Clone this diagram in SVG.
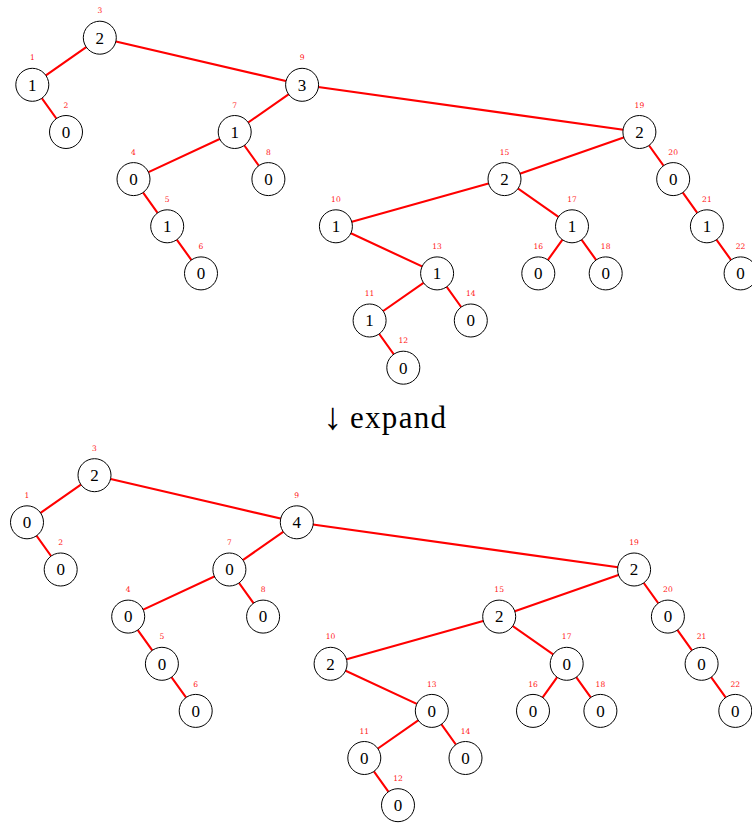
<svg xmlns="http://www.w3.org/2000/svg" width="752" height="824" viewBox="0 0 752 824">
<style>
.edge line{stroke:#ff0000;stroke-width:2.1;stroke-linecap:round}
.node circle{fill:#fff;stroke:#000;stroke-width:1}
.v{font-family:"Liberation Serif","DejaVu Serif",serif;font-size:17px;text-anchor:middle;fill:#000}
.l{font-family:"DejaVu Serif","Liberation Serif",serif;font-size:7.6px;text-anchor:middle;fill:#ff2020}
.cap{font-family:"Liberation Serif","DejaVu Serif",serif;font-size:31px;fill:#000}
</style>
<rect width="752" height="824" fill="#fff"/>
<g id="top-tree">
<g id="top-connectors" class="edge">
<line x1="99.8" y1="37.7" x2="32.3" y2="84.8"/>
<line x1="99.8" y1="37.7" x2="302.1" y2="84.8"/>
<line x1="32.3" y1="84.8" x2="66.0" y2="132.0"/>
<line x1="302.1" y1="84.8" x2="234.7" y2="132.0"/>
<line x1="302.1" y1="84.8" x2="639.4" y2="132.0"/>
<line x1="234.7" y1="132.0" x2="133.5" y2="179.1"/>
<line x1="234.7" y1="132.0" x2="268.4" y2="179.1"/>
<line x1="133.5" y1="179.1" x2="167.2" y2="226.3"/>
<line x1="167.2" y1="226.3" x2="201.0" y2="273.4"/>
<line x1="639.4" y1="132.0" x2="504.5" y2="179.1"/>
<line x1="639.4" y1="132.0" x2="673.2" y2="179.1"/>
<line x1="504.5" y1="179.1" x2="335.9" y2="226.3"/>
<line x1="504.5" y1="179.1" x2="572.0" y2="226.3"/>
<line x1="335.9" y1="226.3" x2="437.1" y2="273.4"/>
<line x1="437.1" y1="273.4" x2="369.6" y2="320.5"/>
<line x1="437.1" y1="273.4" x2="470.8" y2="320.5"/>
<line x1="369.6" y1="320.5" x2="403.3" y2="367.7"/>
<line x1="572.0" y1="226.3" x2="538.3" y2="273.4"/>
<line x1="572.0" y1="226.3" x2="605.7" y2="273.4"/>
<line x1="673.2" y1="179.1" x2="706.9" y2="226.3"/>
<line x1="706.9" y1="226.3" x2="740.6" y2="273.4"/>
</g>
<g id="t1" class="node"><circle cx="32.3" cy="84.8" r="16.5"/><text class="v" x="32.3" y="90.6">1</text><text class="l" x="32.3" y="60.4">1</text></g>
<g id="t2" class="node"><circle cx="66.0" cy="132.0" r="16.5"/><text class="v" x="66.0" y="137.8">0</text><text class="l" x="66.0" y="107.6">2</text></g>
<g id="t3" class="node"><circle cx="99.8" cy="37.7" r="16.5"/><text class="v" x="99.8" y="43.5">2</text><text class="l" x="99.8" y="13.3">3</text></g>
<g id="t4" class="node"><circle cx="133.5" cy="179.1" r="16.5"/><text class="v" x="133.5" y="184.9">0</text><text class="l" x="133.5" y="154.7">4</text></g>
<g id="t5" class="node"><circle cx="167.2" cy="226.3" r="16.5"/><text class="v" x="167.2" y="232.1">1</text><text class="l" x="167.2" y="201.9">5</text></g>
<g id="t6" class="node"><circle cx="201.0" cy="273.4" r="16.5"/><text class="v" x="201.0" y="279.2">0</text><text class="l" x="201.0" y="249.0">6</text></g>
<g id="t7" class="node"><circle cx="234.7" cy="132.0" r="16.5"/><text class="v" x="234.7" y="137.8">1</text><text class="l" x="234.7" y="107.6">7</text></g>
<g id="t8" class="node"><circle cx="268.4" cy="179.1" r="16.5"/><text class="v" x="268.4" y="184.9">0</text><text class="l" x="268.4" y="154.7">8</text></g>
<g id="t9" class="node"><circle cx="302.1" cy="84.8" r="16.5"/><text class="v" x="302.1" y="90.6">3</text><text class="l" x="302.1" y="60.4">9</text></g>
<g id="t10" class="node"><circle cx="335.9" cy="226.3" r="16.5"/><text class="v" x="335.9" y="232.1">1</text><text class="l" x="335.9" y="201.9">10</text></g>
<g id="t11" class="node"><circle cx="369.6" cy="320.5" r="16.5"/><text class="v" x="369.6" y="326.3">1</text><text class="l" x="369.6" y="296.1">11</text></g>
<g id="t12" class="node"><circle cx="403.3" cy="367.7" r="16.5"/><text class="v" x="403.3" y="373.5">0</text><text class="l" x="403.3" y="343.3">12</text></g>
<g id="t13" class="node"><circle cx="437.1" cy="273.4" r="16.5"/><text class="v" x="437.1" y="279.2">1</text><text class="l" x="437.1" y="249.0">13</text></g>
<g id="t14" class="node"><circle cx="470.8" cy="320.5" r="16.5"/><text class="v" x="470.8" y="326.3">0</text><text class="l" x="470.8" y="296.1">14</text></g>
<g id="t15" class="node"><circle cx="504.5" cy="179.1" r="16.5"/><text class="v" x="504.5" y="184.9">2</text><text class="l" x="504.5" y="154.7">15</text></g>
<g id="t16" class="node"><circle cx="538.3" cy="273.4" r="16.5"/><text class="v" x="538.3" y="279.2">0</text><text class="l" x="538.3" y="249.0">16</text></g>
<g id="t17" class="node"><circle cx="572.0" cy="226.3" r="16.5"/><text class="v" x="572.0" y="232.1">1</text><text class="l" x="572.0" y="201.9">17</text></g>
<g id="t18" class="node"><circle cx="605.7" cy="273.4" r="16.5"/><text class="v" x="605.7" y="279.2">0</text><text class="l" x="605.7" y="249.0">18</text></g>
<g id="t19" class="node"><circle cx="639.4" cy="132.0" r="16.5"/><text class="v" x="639.4" y="137.8">2</text><text class="l" x="639.4" y="107.6">19</text></g>
<g id="t20" class="node"><circle cx="673.2" cy="179.1" r="16.5"/><text class="v" x="673.2" y="184.9">0</text><text class="l" x="673.2" y="154.7">20</text></g>
<g id="t21" class="node"><circle cx="706.9" cy="226.3" r="16.5"/><text class="v" x="706.9" y="232.1">1</text><text class="l" x="706.9" y="201.9">21</text></g>
<g id="t22" class="node"><circle cx="740.6" cy="273.4" r="16.5"/><text class="v" x="740.6" y="279.2">0</text><text class="l" x="740.6" y="249.0">22</text></g>
</g>
<text id="caption" class="cap" y="428"><tspan x="323" y="429" font-size="38">↓</tspan><tspan x="350" y="428" textLength="96">expand</tspan></text>
<g id="bottom-tree" transform="translate(-5.3,437.5)">
<g id="bottom-connectors" class="edge">
<line x1="99.8" y1="37.7" x2="32.3" y2="84.8"/>
<line x1="99.8" y1="37.7" x2="302.1" y2="84.8"/>
<line x1="32.3" y1="84.8" x2="66.0" y2="132.0"/>
<line x1="302.1" y1="84.8" x2="234.7" y2="132.0"/>
<line x1="302.1" y1="84.8" x2="639.4" y2="132.0"/>
<line x1="234.7" y1="132.0" x2="133.5" y2="179.1"/>
<line x1="234.7" y1="132.0" x2="268.4" y2="179.1"/>
<line x1="133.5" y1="179.1" x2="167.2" y2="226.3"/>
<line x1="167.2" y1="226.3" x2="201.0" y2="273.4"/>
<line x1="639.4" y1="132.0" x2="504.5" y2="179.1"/>
<line x1="639.4" y1="132.0" x2="673.2" y2="179.1"/>
<line x1="504.5" y1="179.1" x2="335.9" y2="226.3"/>
<line x1="504.5" y1="179.1" x2="572.0" y2="226.3"/>
<line x1="335.9" y1="226.3" x2="437.1" y2="273.4"/>
<line x1="437.1" y1="273.4" x2="369.6" y2="320.5"/>
<line x1="437.1" y1="273.4" x2="470.8" y2="320.5"/>
<line x1="369.6" y1="320.5" x2="403.3" y2="367.7"/>
<line x1="572.0" y1="226.3" x2="538.3" y2="273.4"/>
<line x1="572.0" y1="226.3" x2="605.7" y2="273.4"/>
<line x1="673.2" y1="179.1" x2="706.9" y2="226.3"/>
<line x1="706.9" y1="226.3" x2="740.6" y2="273.4"/>
</g>
<g id="b1" class="node"><circle cx="32.3" cy="84.8" r="16.5"/><text class="v" x="32.3" y="90.6">0</text><text class="l" x="32.3" y="60.4">1</text></g>
<g id="b2" class="node"><circle cx="66.0" cy="132.0" r="16.5"/><text class="v" x="66.0" y="137.8">0</text><text class="l" x="66.0" y="107.6">2</text></g>
<g id="b3" class="node"><circle cx="99.8" cy="37.7" r="16.5"/><text class="v" x="99.8" y="43.5">2</text><text class="l" x="99.8" y="13.3">3</text></g>
<g id="b4" class="node"><circle cx="133.5" cy="179.1" r="16.5"/><text class="v" x="133.5" y="184.9">0</text><text class="l" x="133.5" y="154.7">4</text></g>
<g id="b5" class="node"><circle cx="167.2" cy="226.3" r="16.5"/><text class="v" x="167.2" y="232.1">0</text><text class="l" x="167.2" y="201.9">5</text></g>
<g id="b6" class="node"><circle cx="201.0" cy="273.4" r="16.5"/><text class="v" x="201.0" y="279.2">0</text><text class="l" x="201.0" y="249.0">6</text></g>
<g id="b7" class="node"><circle cx="234.7" cy="132.0" r="16.5"/><text class="v" x="234.7" y="137.8">0</text><text class="l" x="234.7" y="107.6">7</text></g>
<g id="b8" class="node"><circle cx="268.4" cy="179.1" r="16.5"/><text class="v" x="268.4" y="184.9">0</text><text class="l" x="268.4" y="154.7">8</text></g>
<g id="b9" class="node"><circle cx="302.1" cy="84.8" r="16.5"/><text class="v" x="302.1" y="90.6">4</text><text class="l" x="302.1" y="60.4">9</text></g>
<g id="b10" class="node"><circle cx="335.9" cy="226.3" r="16.5"/><text class="v" x="335.9" y="232.1">2</text><text class="l" x="335.9" y="201.9">10</text></g>
<g id="b11" class="node"><circle cx="369.6" cy="320.5" r="16.5"/><text class="v" x="369.6" y="326.3">0</text><text class="l" x="369.6" y="296.1">11</text></g>
<g id="b12" class="node"><circle cx="403.3" cy="367.7" r="16.5"/><text class="v" x="403.3" y="373.5">0</text><text class="l" x="403.3" y="343.3">12</text></g>
<g id="b13" class="node"><circle cx="437.1" cy="273.4" r="16.5"/><text class="v" x="437.1" y="279.2">0</text><text class="l" x="437.1" y="249.0">13</text></g>
<g id="b14" class="node"><circle cx="470.8" cy="320.5" r="16.5"/><text class="v" x="470.8" y="326.3">0</text><text class="l" x="470.8" y="296.1">14</text></g>
<g id="b15" class="node"><circle cx="504.5" cy="179.1" r="16.5"/><text class="v" x="504.5" y="184.9">2</text><text class="l" x="504.5" y="154.7">15</text></g>
<g id="b16" class="node"><circle cx="538.3" cy="273.4" r="16.5"/><text class="v" x="538.3" y="279.2">0</text><text class="l" x="538.3" y="249.0">16</text></g>
<g id="b17" class="node"><circle cx="572.0" cy="226.3" r="16.5"/><text class="v" x="572.0" y="232.1">0</text><text class="l" x="572.0" y="201.9">17</text></g>
<g id="b18" class="node"><circle cx="605.7" cy="273.4" r="16.5"/><text class="v" x="605.7" y="279.2">0</text><text class="l" x="605.7" y="249.0">18</text></g>
<g id="b19" class="node"><circle cx="639.4" cy="132.0" r="16.5"/><text class="v" x="639.4" y="137.8">2</text><text class="l" x="639.4" y="107.6">19</text></g>
<g id="b20" class="node"><circle cx="673.2" cy="179.1" r="16.5"/><text class="v" x="673.2" y="184.9">0</text><text class="l" x="673.2" y="154.7">20</text></g>
<g id="b21" class="node"><circle cx="706.9" cy="226.3" r="16.5"/><text class="v" x="706.9" y="232.1">0</text><text class="l" x="706.9" y="201.9">21</text></g>
<g id="b22" class="node"><circle cx="740.6" cy="273.4" r="16.5"/><text class="v" x="740.6" y="279.2">0</text><text class="l" x="740.6" y="249.0">22</text></g>
</g>
</svg>
